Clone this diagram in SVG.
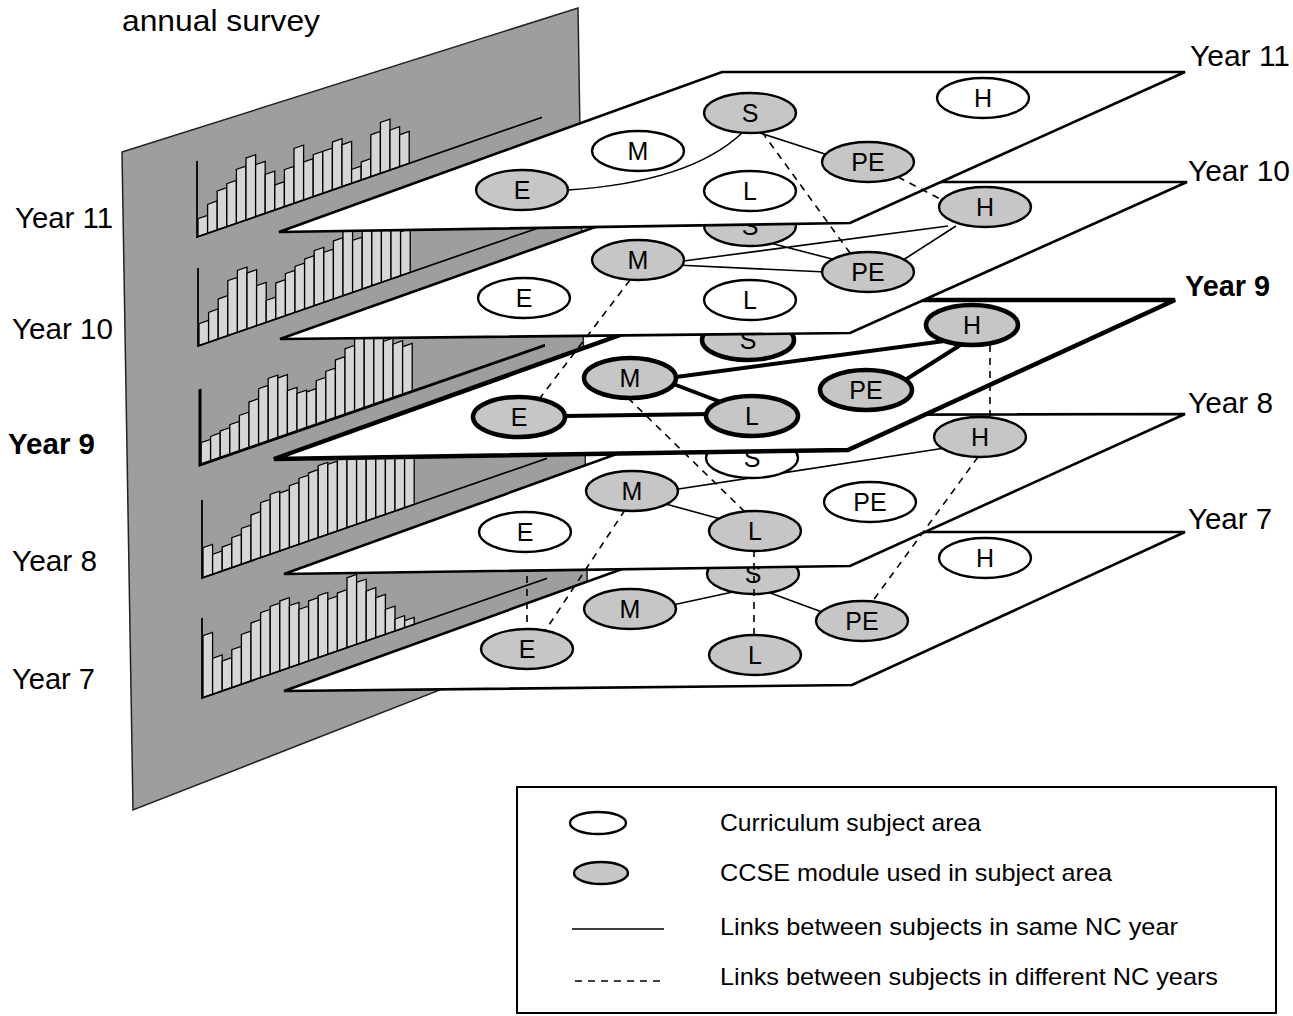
<svg xmlns="http://www.w3.org/2000/svg" width="1293" height="1016" viewBox="0 0 1293 1016">
<defs>
<style>
.bg{fill:#fff}
.panel{fill:#9e9e9e;stroke:#222;stroke-width:1.5}
.bar{fill:#d6d6d6;stroke:#000;stroke-width:1.3}
.axis{fill:none;stroke:#000;stroke-width:1.8}
.axisb{fill:none;stroke:#000;stroke-width:3}
.plane{fill:#fff;stroke:#000;stroke-width:2.6;stroke-linejoin:miter}
.planeb{fill:#fff;stroke:#000;stroke-width:4.5;stroke-linejoin:miter}
.sub{fill:#fff;stroke:#000;stroke-width:2.4}
.mod{fill:#c6c6c6;stroke:#000;stroke-width:2.4}
.modb{fill:#c6c6c6;stroke:#000;stroke-width:4.5}
.nt{font-family:"Liberation Sans",Arial,sans-serif;font-size:25px;text-anchor:middle;fill:#000}
.link{fill:none;stroke:#000;stroke-width:1.6}
.linkb{fill:none;stroke:#000;stroke-width:4}
.dash{fill:none;stroke:#000;stroke-width:1.6;stroke-dasharray:7 6}
.yr{font-family:"Liberation Sans",Arial,sans-serif;font-size:29px;fill:#000}
.yrb{font-family:"Liberation Sans",Arial,sans-serif;font-size:29px;font-weight:bold;fill:#000}
.leg{font-family:"Liberation Sans",Arial,sans-serif;font-size:24px;fill:#000}
</style>
</defs>
<rect class="bg" x="0" y="0" width="1293" height="1016"/>

<g id="survey-panel">
<polygon class="panel" points="122,152 578,8 588,632 133,810"/>
<g id="chart-y11" transform="translate(197,237) skewY(-19.13)">
<rect class="bar" x="1" y="-18" width="9.6" height="18"/><rect class="bar" x="10.6" y="-29" width="9.6" height="29"/><rect class="bar" x="20.2" y="-39" width="9.6" height="39"/><rect class="bar" x="29.8" y="-43" width="9.6" height="43"/><rect class="bar" x="39.4" y="-54" width="9.6" height="54"/><rect class="bar" x="49" y="-62" width="9.6" height="62"/><rect class="bar" x="58.6" y="-52" width="9.6" height="52"/><rect class="bar" x="68.2" y="-39" width="9.6" height="39"/><rect class="bar" x="77.8" y="-25" width="9.6" height="25"/><rect class="bar" x="87.4" y="-37" width="9.6" height="37"/><rect class="bar" x="97" y="-55" width="9.6" height="55"/><rect class="bar" x="106.6" y="-38" width="9.6" height="38"/><rect class="bar" x="116.2" y="-42" width="9.6" height="42"/><rect class="bar" x="125.8" y="-42" width="9.6" height="42"/><rect class="bar" x="135.4" y="-48" width="9.6" height="48"/><rect class="bar" x="145" y="-42" width="9.6" height="42"/><rect class="bar" x="154.6" y="-14" width="9.6" height="14"/><rect class="bar" x="164.2" y="-18" width="9.6" height="18"/><rect class="bar" x="173.8" y="-42" width="9.6" height="42"/><rect class="bar" x="183.4" y="-51" width="9.6" height="51"/><rect class="bar" x="193" y="-40" width="9.6" height="40"/><rect class="bar" x="202.6" y="-32" width="9.6" height="32"/>
<path class="axis" d="M0,-76 V0 H345"/>
</g>
<g id="chart-y10" transform="translate(198,346) skewY(-19.13)">
<rect class="bar" x="1" y="-22" width="9.6" height="22"/><rect class="bar" x="10.6" y="-30" width="9.6" height="30"/><rect class="bar" x="20.2" y="-40" width="9.6" height="40"/><rect class="bar" x="29.8" y="-55" width="9.6" height="55"/><rect class="bar" x="39.4" y="-62" width="9.6" height="62"/><rect class="bar" x="49" y="-56" width="9.6" height="56"/><rect class="bar" x="58.6" y="-40" width="9.6" height="40"/><rect class="bar" x="68.2" y="-22" width="9.6" height="22"/><rect class="bar" x="77.8" y="-36" width="9.6" height="36"/><rect class="bar" x="87.4" y="-42" width="9.6" height="42"/><rect class="bar" x="97" y="-46" width="9.6" height="46"/><rect class="bar" x="106.6" y="-50" width="9.6" height="50"/><rect class="bar" x="116.2" y="-55" width="9.6" height="55"/><rect class="bar" x="125.8" y="-50" width="9.6" height="50"/><rect class="bar" x="135.4" y="-58" width="9.6" height="58"/><rect class="bar" x="145" y="-64" width="9.6" height="64"/><rect class="bar" x="154.6" y="-52" width="9.6" height="52"/><rect class="bar" x="164.2" y="-60" width="9.6" height="60"/><rect class="bar" x="173.8" y="-72" width="9.6" height="72"/><rect class="bar" x="183.4" y="-66" width="9.6" height="66"/><rect class="bar" x="193" y="-54" width="9.6" height="54"/><rect class="bar" x="202.6" y="-44" width="9.6" height="44"/>
<path class="axis" d="M0,-78 V0 H345"/>
</g>
<g id="chart-y9" transform="translate(200,465) skewY(-19.13)">
<rect class="bar" x="1" y="-22" width="9.6" height="22"/><rect class="bar" x="10.6" y="-25" width="9.6" height="25"/><rect class="bar" x="20.2" y="-27" width="9.6" height="27"/><rect class="bar" x="29.8" y="-30" width="9.6" height="30"/><rect class="bar" x="39.4" y="-36" width="9.6" height="36"/><rect class="bar" x="49" y="-46" width="9.6" height="46"/><rect class="bar" x="58.6" y="-56" width="9.6" height="56"/><rect class="bar" x="68.2" y="-63" width="9.6" height="63"/><rect class="bar" x="77.8" y="-60" width="9.6" height="60"/><rect class="bar" x="87.4" y="-44" width="9.6" height="44"/><rect class="bar" x="97" y="-38" width="9.6" height="38"/><rect class="bar" x="106.6" y="-36" width="9.6" height="36"/><rect class="bar" x="116.2" y="-44" width="9.6" height="44"/><rect class="bar" x="125.8" y="-50" width="9.6" height="50"/><rect class="bar" x="135.4" y="-58" width="9.6" height="58"/><rect class="bar" x="145" y="-66" width="9.6" height="66"/><rect class="bar" x="154.6" y="-74" width="9.6" height="74"/><rect class="bar" x="164.2" y="-76" width="9.6" height="76"/><rect class="bar" x="173.8" y="-70" width="9.6" height="70"/><rect class="bar" x="183.4" y="-60" width="9.6" height="60"/><rect class="bar" x="193" y="-54" width="9.6" height="54"/><rect class="bar" x="202.6" y="-48" width="9.6" height="48"/>
<path class="axisb" d="M0,-76 V0 H345"/>
</g>
<g id="chart-y8" transform="translate(202,578) skewY(-19.13)">
<rect class="bar" x="1" y="-30" width="9.6" height="30"/><rect class="bar" x="10.6" y="-20" width="9.6" height="20"/><rect class="bar" x="20.2" y="-24" width="9.6" height="24"/><rect class="bar" x="29.8" y="-30" width="9.6" height="30"/><rect class="bar" x="39.4" y="-36" width="9.6" height="36"/><rect class="bar" x="49" y="-46" width="9.6" height="46"/><rect class="bar" x="58.6" y="-55" width="9.6" height="55"/><rect class="bar" x="68.2" y="-60" width="9.6" height="60"/><rect class="bar" x="77.8" y="-58" width="9.6" height="58"/><rect class="bar" x="87.4" y="-62" width="9.6" height="62"/><rect class="bar" x="97" y="-66" width="9.6" height="66"/><rect class="bar" x="106.6" y="-68" width="9.6" height="68"/><rect class="bar" x="116.2" y="-72" width="9.6" height="72"/><rect class="bar" x="125.8" y="-70" width="9.6" height="70"/><rect class="bar" x="135.4" y="-75" width="9.6" height="75"/><rect class="bar" x="145" y="-78" width="9.6" height="78"/><rect class="bar" x="154.6" y="-72" width="9.6" height="72"/><rect class="bar" x="164.2" y="-70" width="9.6" height="70"/><rect class="bar" x="173.8" y="-74" width="9.6" height="74"/><rect class="bar" x="183.4" y="-72" width="9.6" height="72"/><rect class="bar" x="193" y="-68" width="9.6" height="68"/><rect class="bar" x="202.6" y="-62" width="9.6" height="62"/>
<path class="axis" d="M0,-78 V0 H345"/>
</g>
<g id="chart-y7" transform="translate(202,698) skewY(-19.13)">
<rect class="bar" x="1" y="-62" width="9.6" height="62"/><rect class="bar" x="10.6" y="-36" width="9.6" height="36"/><rect class="bar" x="20.2" y="-30" width="9.6" height="30"/><rect class="bar" x="29.8" y="-38" width="9.6" height="38"/><rect class="bar" x="39.4" y="-50" width="9.6" height="50"/><rect class="bar" x="49" y="-58" width="9.6" height="58"/><rect class="bar" x="58.6" y="-65" width="9.6" height="65"/><rect class="bar" x="68.2" y="-68" width="9.6" height="68"/><rect class="bar" x="77.8" y="-70" width="9.6" height="70"/><rect class="bar" x="87.4" y="-62" width="9.6" height="62"/><rect class="bar" x="97" y="-55" width="9.6" height="55"/><rect class="bar" x="106.6" y="-60" width="9.6" height="60"/><rect class="bar" x="116.2" y="-62" width="9.6" height="62"/><rect class="bar" x="125.8" y="-55" width="9.6" height="55"/><rect class="bar" x="135.4" y="-58" width="9.6" height="58"/><rect class="bar" x="145" y="-70" width="9.6" height="70"/><rect class="bar" x="154.6" y="-62" width="9.6" height="62"/><rect class="bar" x="164.2" y="-50" width="9.6" height="50"/><rect class="bar" x="173.8" y="-40" width="9.6" height="40"/><rect class="bar" x="183.4" y="-25" width="9.6" height="25"/><rect class="bar" x="193" y="-12" width="9.6" height="12"/><rect class="bar" x="202.6" y="-7" width="9.6" height="7"/>
<path class="axis" d="M0,-80 V0 H345"/>
</g>
</g>

<g id="year7">
<path class="plane" d="M284,691 L725,532 L1185,532 L852,685 Z"/>
<path class="link" d="M742,590 L668,606 M762,590 L822,612"/>
<g id="y7-S"><ellipse class="mod" cx="753" cy="574" rx="46" ry="20"/><text class="nt" x="753" y="583">S</text></g>
<g id="y7-H"><ellipse class="sub" cx="985" cy="558" rx="46" ry="20"/><text class="nt" x="985" y="567">H</text></g>
<g id="y7-M"><ellipse class="mod" cx="630" cy="609" rx="46" ry="20"/><text class="nt" x="630" y="618">M</text></g>
<g id="y7-PE"><ellipse class="mod" cx="862" cy="621" rx="46" ry="20"/><text class="nt" x="862" y="630">PE</text></g>
<g id="y7-E"><ellipse class="mod" cx="527" cy="649" rx="46" ry="20"/><text class="nt" x="527" y="658">E</text></g>
<g id="y7-L"><ellipse class="mod" cx="755" cy="655" rx="46" ry="20"/><text class="nt" x="755" y="664">L</text></g>
</g>

<g id="year8">
<path class="plane" d="M284,574 L725,415 L1185,414 L850,566 Z"/>
<path class="link" d="M672,490 L945,448 M662,503 L728,521"/>
<g id="y8-S"><ellipse class="sub" cx="752" cy="458" rx="46" ry="20"/><text class="nt" x="752" y="467">S</text></g>
<g id="y8-H"><ellipse class="mod" cx="980" cy="437" rx="46" ry="20"/><text class="nt" x="980" y="446">H</text></g>
<g id="y8-M"><ellipse class="mod" cx="632" cy="491" rx="46" ry="20"/><text class="nt" x="632" y="500">M</text></g>
<g id="y8-PE"><ellipse class="sub" cx="870" cy="502" rx="46" ry="20"/><text class="nt" x="870" y="511">PE</text></g>
<g id="y8-E"><ellipse class="sub" cx="525" cy="532" rx="46" ry="20"/><text class="nt" x="525" y="541">E</text></g>
<g id="y8-L"><ellipse class="mod" cx="755" cy="531" rx="46" ry="20"/><text class="nt" x="755" y="540">L</text></g>
</g>

<g id="year9">
<path class="planeb" d="M274,459 L718,300 L1175,300 L848,450 Z"/>
<path class="linkb" d="M565,416 L712,414 M668,382 L726,404 M676,377 L952,340 M902,382 L962,344"/>
<g id="y9-S"><ellipse class="modb" cx="748" cy="340" rx="46" ry="20"/><text class="nt" x="748" y="349">S</text></g>
<g id="y9-H"><ellipse class="modb" cx="972" cy="325" rx="46" ry="20"/><text class="nt" x="972" y="334">H</text></g>
<g id="y9-M"><ellipse class="modb" cx="630" cy="378" rx="46" ry="20"/><text class="nt" x="630" y="387">M</text></g>
<g id="y9-PE"><ellipse class="modb" cx="866" cy="390" rx="46" ry="20"/><text class="nt" x="866" y="399">PE</text></g>
<g id="y9-E"><ellipse class="modb" cx="519" cy="417" rx="46" ry="20"/><text class="nt" x="519" y="426">E</text></g>
<g id="y9-L"><ellipse class="modb" cx="752" cy="416" rx="46" ry="20"/><text class="nt" x="752" y="425">L</text></g>
</g>

<g id="year10">
<path class="plane" d="M280,339 L722,182 L1187,182 L850,333 Z"/>
<path class="link" d="M676,262 L948,226 M676,265 L826,272 M770,243 L836,260 M900,262 L956,226"/>
<g id="y10-S"><ellipse class="mod" cx="750" cy="226" rx="46" ry="20"/><text class="nt" x="750" y="235">S</text></g>
<g id="y10-H"><ellipse class="mod" cx="985" cy="207" rx="46" ry="20"/><text class="nt" x="985" y="216">H</text></g>
<g id="y10-M"><ellipse class="mod" cx="638" cy="260" rx="46" ry="20"/><text class="nt" x="638" y="269">M</text></g>
<g id="y10-PE"><ellipse class="mod" cx="868" cy="272" rx="46" ry="20"/><text class="nt" x="868" y="281">PE</text></g>
<g id="y10-E"><ellipse class="sub" cx="524" cy="298" rx="46" ry="20"/><text class="nt" x="524" y="307">E</text></g>
<g id="y10-L"><ellipse class="sub" cx="750" cy="300" rx="46" ry="20"/><text class="nt" x="750" y="309">L</text></g>
</g>

<g id="year11">
<path class="plane" d="M279,232 L722,72 L1185,72 L850,223 Z"/>
<path class="link" d="M742,133 Q690,182 568,190 M760,133 L828,155"/>
<g id="y11-S"><ellipse class="mod" cx="750" cy="113" rx="46" ry="20"/><text class="nt" x="750" y="122">S</text></g>
<g id="y11-H"><ellipse class="sub" cx="983" cy="98" rx="46" ry="20"/><text class="nt" x="983" y="107">H</text></g>
<g id="y11-M"><ellipse class="sub" cx="638" cy="151" rx="46" ry="20"/><text class="nt" x="638" y="160">M</text></g>
<g id="y11-PE"><ellipse class="mod" cx="868" cy="162" rx="46" ry="20"/><text class="nt" x="868" y="171">PE</text></g>
<g id="y11-E"><ellipse class="mod" cx="522" cy="190" rx="46" ry="20"/><text class="nt" x="522" y="199">E</text></g>
<g id="y11-L"><ellipse class="sub" cx="750" cy="191" rx="46" ry="20"/><text class="nt" x="750" y="200">L</text></g>
</g>

<g id="connectors">
<path class="dash" d="M762,132 L850,253"/>
<path class="dash" d="M898,177 L942,200"/>
<path class="dash" d="M630,280 L540,398"/>
<path class="dash" d="M628,398 L745,512"/>
<path class="dash" d="M990,345 L990,418"/>
<path class="dash" d="M625,510 L545,631"/>
<path class="dash" d="M527,576 L527,630"/>
<path class="dash" d="M978,457 L872,602"/>
<path class="dash" d="M754,550 L754,636"/>
</g>

<g id="labels">
<text class="yr" x="122" y="31" font-size="30" textLength="198" lengthAdjust="spacingAndGlyphs">annual survey</text>
<text class="yr" x="15" y="228" textLength="98" lengthAdjust="spacingAndGlyphs">Year 11</text>
<text class="yr" x="12" y="339" textLength="101" lengthAdjust="spacingAndGlyphs">Year 10</text>
<text class="yrb" x="8" y="454" textLength="87" lengthAdjust="spacingAndGlyphs">Year 9</text>
<text class="yr" x="12" y="571" textLength="85" lengthAdjust="spacingAndGlyphs">Year 8</text>
<text class="yr" x="12" y="689" textLength="83" lengthAdjust="spacingAndGlyphs">Year 7</text>
<text class="yr" x="1190" y="66" textLength="100" lengthAdjust="spacingAndGlyphs">Year 11</text>
<text class="yr" x="1188" y="181" textLength="102" lengthAdjust="spacingAndGlyphs">Year 10</text>
<text class="yrb" x="1185" y="296" textLength="85" lengthAdjust="spacingAndGlyphs">Year 9</text>
<text class="yr" x="1188" y="413" textLength="85" lengthAdjust="spacingAndGlyphs">Year 8</text>
<text class="yr" x="1188" y="529" textLength="84" lengthAdjust="spacingAndGlyphs">Year 7</text>
</g>

<g id="legend">
<rect x="517" y="787" width="759" height="226" fill="#fff" stroke="#000" stroke-width="2"/>
<ellipse class="sub" cx="598" cy="823" rx="28" ry="11" stroke-width="2"/>
<ellipse class="mod" cx="601" cy="873" rx="27" ry="11" stroke-width="2"/>
<line class="link" x1="572" y1="929" x2="664" y2="929" stroke-width="2"/>
<line class="dash" x1="575" y1="981" x2="662" y2="981" stroke-dasharray="6 6" stroke-width="2"/>
<text class="leg" x="720" y="831" textLength="261" lengthAdjust="spacingAndGlyphs">Curriculum subject area</text>
<text class="leg" x="720" y="881" textLength="392" lengthAdjust="spacingAndGlyphs">CCSE module used in subject area</text>
<text class="leg" x="720" y="935" textLength="458" lengthAdjust="spacingAndGlyphs">Links between subjects in same NC year</text>
<text class="leg" x="720" y="985" textLength="498" lengthAdjust="spacingAndGlyphs">Links between subjects in different NC years</text>
</g>
</svg>
